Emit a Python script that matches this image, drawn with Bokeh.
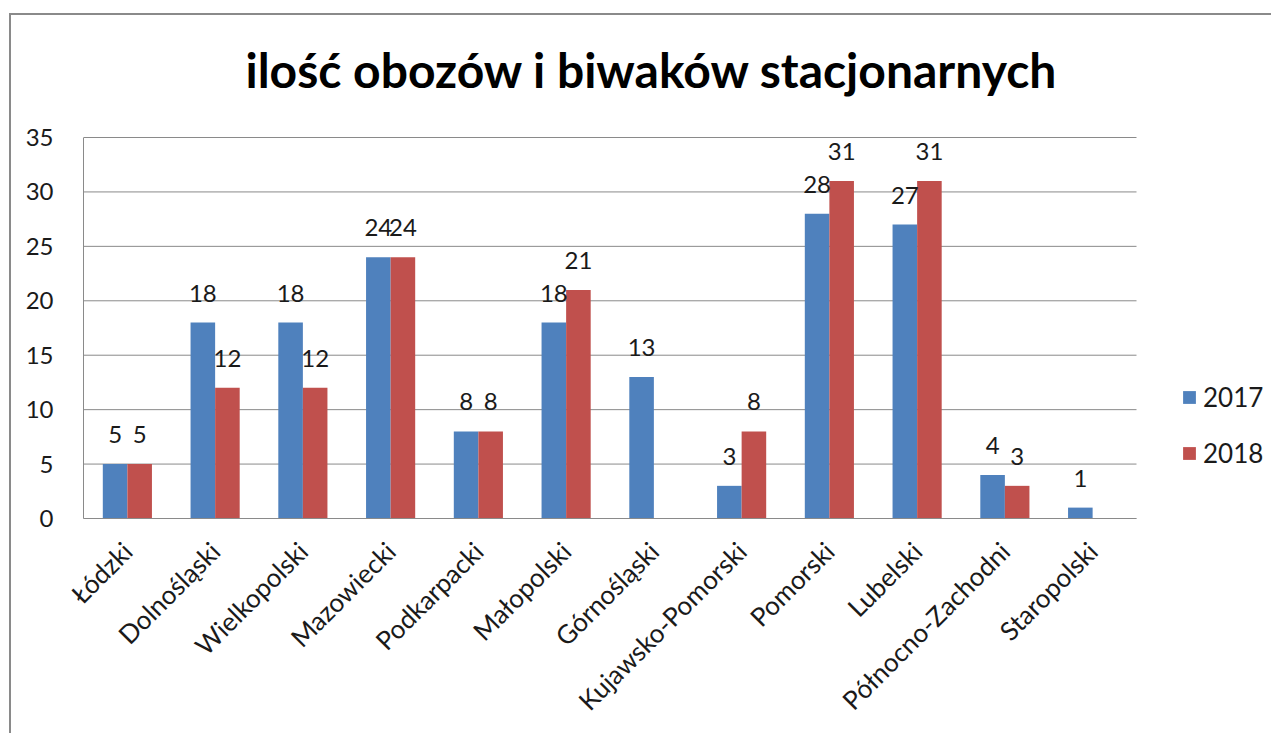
import math
from bokeh.plotting import figure
from bokeh.models import (ColumnDataSource, Range1d, Legend, LegendItem,
                          LabelSet, Label, FixedTicker)
from bokeh.embed import file_html
from bokeh.resources import INLINE
from bokeh.core.properties import value

categories = ["Łódzki", "Dolnośląski", "Wielkopolski", "Mazowiecki", "Podkarpacki",
              "Małopolski", "Górnośląski", "Kujawsko-Pomorski", "Pomorski", "Lubelski",
              "Północno-Zachodni", "Staropolski"]
v2017 = [5, 18, 18, 24, 8, 18, 13, 3, 28, 27, 4, 1]
v2018 = [5, 12, 12, 24, 8, 21, None, 8, 31, 31, 3, None]
series = ["2017", "2018"]
colors = ["#4F81BD", "#C0504D"]
y_ticks = [0, 5, 10, 15, 20, 25, 30, 35]
title_text = "ilość obozów i biwaków stacjonarnych"

FONT = "Lato"

# layout (pixels)
W, H = 1262, 720
MB_LEFT, MB_TOP, MB_BOTTOM, MB_RIGHT = 72, 0, 217, 0
PLOT_W = 1053            # width of the category area
PLOT_H = 381             # height of the value area (0..35)
frame_w = W - MB_LEFT - MB_RIGHT
frame_h = H - MB_TOP - MB_BOTTOM
n = len(categories)
y_max = y_ticks[-1]
x_end = n * frame_w / PLOT_W
y_end = y_max * frame_h / PLOT_H

p = figure(x_range=Range1d(0, x_end), y_range=Range1d(0, y_end),
           width=W, height=H, output_backend="svg", toolbar_location=None,
           min_border_left=MB_LEFT, min_border_top=MB_TOP, min_border_right=MB_RIGHT,
           min_border_bottom=MB_BOTTOM)
p.styles = {"border-top": "2px solid #8a8a8a", "border-left": "2px solid #8a8a8a",
            "margin-top": "13px", "margin-left": "9px"}

p.outline_line_color = None
p.xgrid.grid_line_color = None
p.ygrid.grid_line_color = None

# title (screen units, relative to the plot frame)
p.add_layout(Label(x=162, y=449, x_units="screen", y_units="screen", text=title_text,
                   text_font=FONT, text_font_style="bold", text_font_size="48px",
                   text_color="#000000", text_baseline="alphabetic", text_align="left"))

# horizontal grid lines limited to the category area
p.segment(x0=0, x1=n, y0=y_ticks, y1=y_ticks, line_color="#8a8a8a", line_width=1,
          level="underlay")

p.yaxis.ticker = FixedTicker(ticks=y_ticks)
p.yaxis.bounds = (0, y_max)
p.yaxis.axis_line_color = "#8a8a8a"
p.yaxis.major_tick_line_color = None
p.yaxis.minor_tick_line_color = None
p.yaxis.major_label_standoff = 24
p.yaxis.major_label_text_font = FONT
p.yaxis.major_label_text_font_size = "24px"
p.yaxis.major_label_text_color = "#1a1a1a"

centers = [i + 0.5 for i in range(n)]
p.xaxis.ticker = FixedTicker(ticks=centers)
p.xaxis.major_label_overrides = {c: name for c, name in zip(centers, categories)}
p.xaxis.bounds = (0, n)
p.xaxis.axis_line_color = "#8a8a8a"
p.xaxis.major_tick_line_color = None
p.xaxis.minor_tick_line_color = None
p.xaxis.major_label_orientation = math.pi / 4
p.xaxis.major_label_standoff = 22
p.xaxis.major_label_text_font = FONT
p.xaxis.major_label_text_font_size = "26px"
p.xaxis.major_label_text_color = "#1a1a1a"

offsets = [-0.14, 0.14]
items = []
for name, vals, col, off in zip(series, [v2017, v2018], colors, offsets):
    xs = [c + off for c, v in zip(centers, vals) if v is not None]
    vv = [v for v in vals if v is not None]
    src = ColumnDataSource(dict(x=xs, v=vv, lab=[str(v) for v in vv]))
    r = p.vbar(x="x", top="v", width=0.28, source=src, fill_color=col, line_color=None)
    labels = LabelSet(x="x", y="v", text="lab", source=src, text_align="center",
                      text_baseline="alphabetic", y_offset=21, text_font=value(FONT),
                      text_font_size="24px", text_color="#1a1a1a")
    p.add_layout(labels)
    items.append(LegendItem(label=name, renderers=[r]))

legend = Legend(items=items, location=(1098, 49), orientation="vertical",
                label_text_font=FONT, label_text_font_size="26px",
                label_text_color="#1a1a1a", glyph_width=16, glyph_height=16,
                label_height=20, spacing=24, padding=0, margin=0,
                background_fill_alpha=0, border_line_color=None, label_standoff=6)
p.add_layout(legend, "center")

open("out.html", "w").write(file_html(p, INLINE))
